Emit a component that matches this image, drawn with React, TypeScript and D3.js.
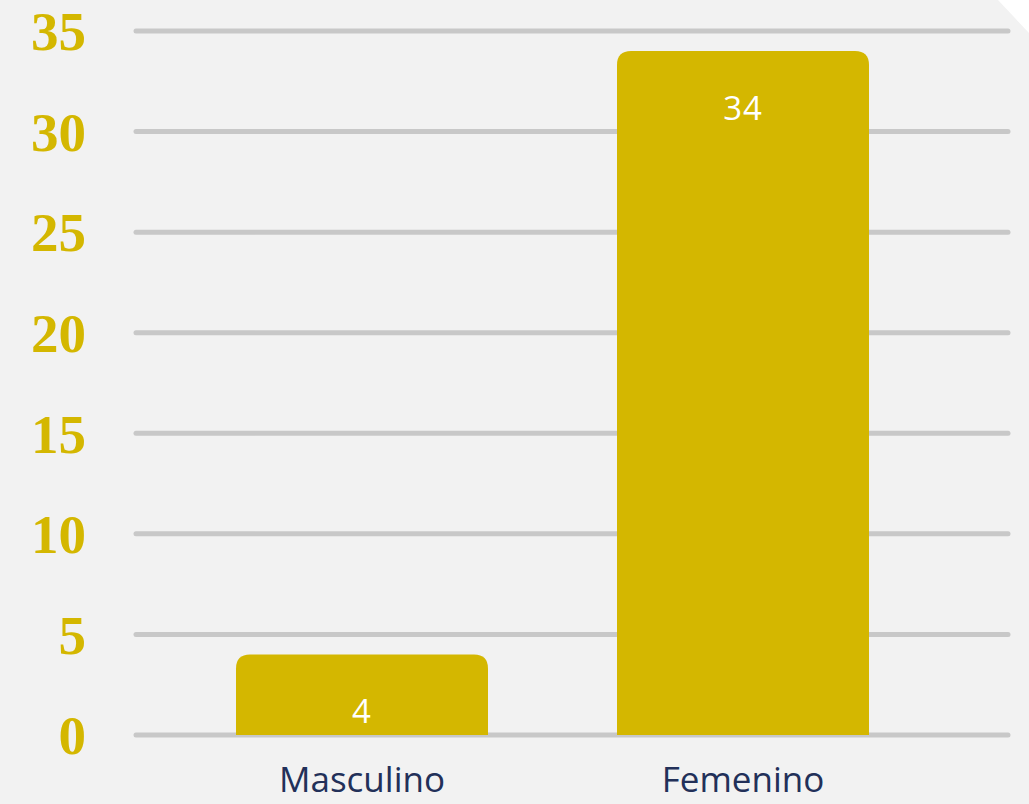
import React, { useRef, useEffect } from "react";
import { select, scaleBand, scaleLinear } from "d3";

const categories = ["Masculino", "Femenino"];
const values = [4, 34];
const yTicks = [0, 5, 10, 15, 20, 25, 30, 35];

const WIDTH = 1029;
const HEIGHT = 804;
const GOLD = "#d4b700";

function topRoundedBar(x: number, y: number, w: number, h: number, r: number) {
  return `M${x},${y + h}V${y + r}Q${x},${y} ${x + r},${y}H${x + w - r}Q${x + w},${y} ${x + w},${y + r}V${y + h}Z`;
}

function BarChart() {
  const svgRef = useRef<SVGSVGElement>(null);

  useEffect(() => {
    document.body.style.margin = "0";
    const svg = select(svgRef.current);
    svg.selectAll("*").remove();

    // background with the clipped corner
    svg.append("path")
      .attr("d", `M0,0H${WIDTH - 31}L${WIDTH},33V${HEIGHT}H0Z`)
      .attr("fill", "#f2f2f2");

    const yScale = scaleLinear().domain([0, 35]).range([735, 31]);

    const step = 381;
    const padInner = 129 / step;
    const xScale = scaleBand()
      .domain(categories)
      .range([171.5, 933.5])
      .paddingInner(padInner)
      .paddingOuter(padInner / 2);

    // gridlines
    svg.selectAll(".grid")
      .data(yTicks)
      .join("line")
      .attr("class", "grid")
      .attr("x1", 136)
      .attr("x2", 1008)
      .attr("y1", d => yScale(d))
      .attr("y2", d => yScale(d))
      .attr("stroke", "#c8c8c8")
      .attr("stroke-width", 5)
      .attr("stroke-linecap", "round");

    // y labels
    svg.selectAll(".ylabel")
      .data(yTicks)
      .join("text")
      .attr("class", "ylabel")
      .attr("x", 86)
      .attr("y", d => yScale(d))
      .attr("dy", "0.35em")
      .attr("text-anchor", "end")
      .attr("font-family", "'Liberation Serif', serif")
      .attr("font-weight", "bold")
      .attr("font-size", 55)
      .attr("fill", GOLD)
      .text(d => d);

    // bars
    svg.selectAll(".bar")
      .data(values)
      .join("path")
      .attr("class", "bar")
      .attr("fill", GOLD)
      .attr("d", (d, i) => {
        const x = xScale(categories[i]) as number;
        const y = yScale(d);
        return topRoundedBar(x, y, xScale.bandwidth(), yScale(0) - y, 14);
      });

    // value labels
    svg.selectAll(".value")
      .data(values)
      .join("text")
      .attr("class", "value")
      .attr("x", (d, i) => (xScale(categories[i]) as number) + xScale.bandwidth() / 2)
      .attr("y", d => yScale(d) + 57)
      .attr("dy", "0.35em")
      .attr("text-anchor", "middle")
      .attr("font-family", "'Open Sans', sans-serif")
      .attr("font-size", 33)
      .attr("letter-spacing", 1)
      .attr("fill", "#ffffff")
      .text(d => d);

    // category labels
    svg.selectAll(".cat")
      .data(categories)
      .join("text")
      .attr("class", "cat")
      .attr("x", d => (xScale(d) as number) + xScale.bandwidth() / 2)
      .attr("y", 792)
      .attr("text-anchor", "middle")
      .attr("font-family", "'Open Sans', sans-serif")
      .attr("font-size", 35)
      .attr("fill", "#223059")
      .text(d => d);
  }, []);

  return <svg ref={svgRef} width={WIDTH} height={HEIGHT} style={{ display: "block", background: "#ffffff" }}></svg>;
}

export default function App() {
  return <BarChart />;
}
